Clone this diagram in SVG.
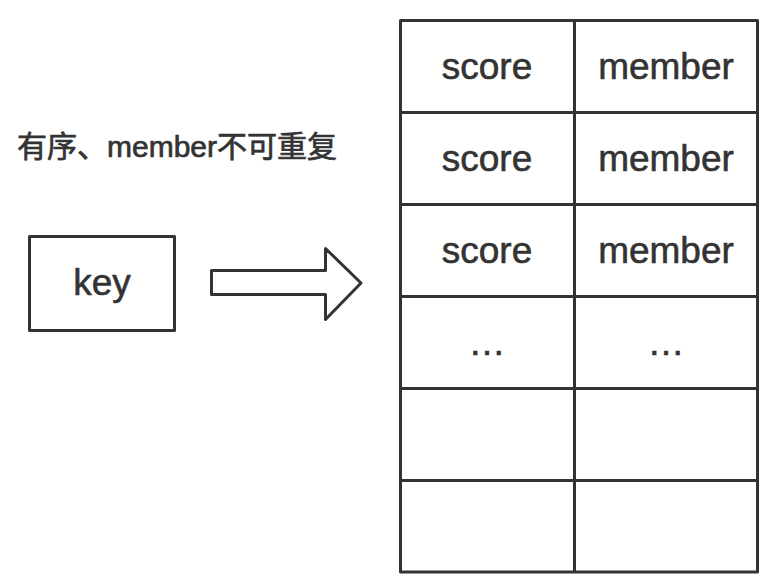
<svg xmlns="http://www.w3.org/2000/svg" width="780" height="588" viewBox="0 0 780 588">
<style>
.ln{fill:none;stroke:#333;stroke-width:3;stroke-linejoin:round}
.t{font-family:"Liberation Sans","Noto Sans CJK SC",sans-serif;fill:#333;stroke:#333;stroke-width:0.6;text-anchor:middle}
.c{font-size:37px}
.ti{font-family:"Liberation Sans","Noto Sans CJK SC",sans-serif;fill:#333;stroke:#333;stroke-width:0.7;font-size:30px}
</style>
<rect width="780" height="588" fill="#fff"/>
<text class="ti" x="17" y="157">有序、member不可重复</text>
<g id="key">
<rect class="ln" x="29.5" y="236.5" width="145" height="94"/>
<text class="t c" x="102" y="295">key</text>
</g>
<g id="connectors">
<path class="ln" d="M211.5 270.5 H325.5 V248.5 L361 283 L325.5 319.5 V294.5 H211.5 Z"/>
</g>
<g id="table">
<rect class="ln" x="400.5" y="20.5" width="357" height="551.5"/>
<path class="ln" d="M574.5 20.5 V572 M400.5 112.5 H757.5 M400.5 204.5 H757.5 M400.5 296.5 H757.5 M400.5 388.5 H757.5 M400.5 480.5 H757.5"/>
<text class="t c" x="487" y="79">score</text>
<text class="t c" x="666" y="79">member</text>
<text class="t c" x="487" y="171">score</text>
<text class="t c" x="666" y="171">member</text>
<text class="t c" x="487" y="263">score</text>
<text class="t c" x="666" y="263">member</text>
<text class="t c" x="487" y="355">…</text>
<text class="t c" x="666" y="355">…</text>
</g>
</svg>
